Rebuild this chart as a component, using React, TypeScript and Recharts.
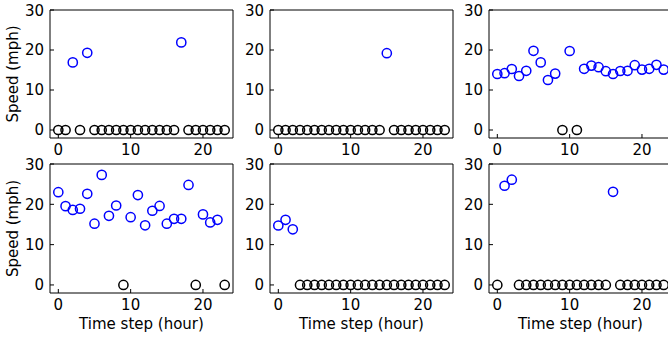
import { ScatterChart, Scatter, XAxis, YAxis, ReferenceArea } from "recharts";

// hour index on the x axis
const HOURS = [0, 1, 2, 3, 4, 5, 6, 7, 8, 9, 10, 11, 12, 13, 14, 15, 16, 17, 18, 19, 20, 21, 22, 23];
const X_TICKS = [0, 10, 20];
const Y_TICKS = [0, 10, 20, 30];

// speed (mph) per hour, one array per panel
const speedTopLeft = [0, 0, 16.9, 0, 19.3, 0, 0, 0, 0, 0, 0, 0, 0, 0, 0, 0, 0, 21.9, 0, 0, 0, 0, 0, 0];
const speedTopMid = [0, 0, 0, 0, 0, 0, 0, 0, 0, 0, 0, 0, 0, 0, 0, 19.2, 0, 0, 0, 0, 0, 0, 0, 0];
const speedTopRight = [14.0, 14.2, 15.25, 13.5, 14.8, 19.8, 16.9, 12.5, 14.1, 0, 19.75, 0, 15.3, 16.1, 15.7, 14.7, 14.0, 14.75, 14.8, 16.2, 15.1, 15.3, 16.3, 15.1];
const speedBotLeft = [23.0, 19.55, 18.6, 18.9, 22.6, 15.2, 27.3, 17.15, 19.7, 0, 16.8, 22.3, 14.8, 18.4, 19.6, 15.2, 16.4, 16.4, 24.8, 0, 17.5, 15.5, 16.15, 0];
const speedBotMid = [14.75, 16.15, 13.8, 0, 0, 0, 0, 0, 0, 0, 0, 0, 0, 0, 0, 0, 0, 0, 0, 0, 0, 0, 0, 0];
const speedBotRight = [0, 24.6, 26.1, 0, 0, 0, 0, 0, 0, 0, 0, 0, 0, 0, 0, 0, 23.1, 0, 0, 0, 0, 0, 0, 0];

const X_DOMAIN = [-1.15, 24.15];
const Y_DOMAIN = [-2, 30];
const FONT = "'DejaVu Sans', sans-serif";
const tickStyle = { fill: "#000", fontSize: 15, fontFamily: FONT };

const ring = (color: string) => (props: any) => (
  <circle cx={props.cx} cy={props.cy} r={4.6} fill="none" stroke={color} strokeWidth={1.5} />
);

interface PanelProps {
  speeds: number[];
  plotLeft: number;
  plotTop: number;
  plotH: number;
  xLabel?: boolean;
  yLabel?: boolean;
}

function Panel({ speeds, plotLeft, plotTop, plotH, xLabel, yLabel }: PanelProps) {
  const data = HOURS.map((h, i) => ({ x: h, y: speeds[i] }));
  const moving = data.filter((d) => d.y > 0);
  const stopped = data.filter((d) => d.y === 0);
  const axisW = 50;
  const marginTop = 8;
  const xAxisH = xLabel ? 44 : 25;
  const width = axisW + 183 + 2;
  const height = marginTop + plotH + xAxisH;

  return (
    <div style={{ position: "absolute", left: plotLeft - axisW, top: plotTop - marginTop }}>
      <ScatterChart width={width} height={height} margin={{ top: marginTop, right: 2, bottom: 0, left: 0 }}>
        <XAxis
          type="number"
          dataKey="x"
          domain={X_DOMAIN}
          ticks={X_TICKS}
          allowDataOverflow
          height={xAxisH}
          axisLine={false}
          tickLine={{ stroke: "#000" }}
          tickSize={-4}
          tickMargin={10}
          tick={tickStyle}
          label={
            xLabel
              ? { value: "Time step (hour)", position: "insideBottom", offset: 8, style: { ...tickStyle, fontSize: 15 } }
              : undefined
          }
        />
        <YAxis
          type="number"
          dataKey="y"
          domain={Y_DOMAIN}
          ticks={Y_TICKS}
          allowDataOverflow
          width={axisW}
          axisLine={false}
          tickLine={{ stroke: "#000" }}
          tickSize={-4}
          tickMargin={10}
          tick={tickStyle}
          label={
            yLabel
              ? {
                  value: "Speed (mph)",
                  angle: -90,
                  position: "insideLeft",
                  offset: 13,
                  textAnchor: "middle",
                  style: { ...tickStyle, fontSize: 15, textAnchor: "middle" },
                }
              : undefined
          }
        />
        <ReferenceArea
          x1={X_DOMAIN[0]}
          x2={X_DOMAIN[1]}
          y1={Y_DOMAIN[0]}
          y2={Y_DOMAIN[1]}
          fill="none"
          stroke="#000"
          strokeWidth={1}
          fillOpacity={0}
        />
        <Scatter data={stopped} shape={ring("#000")} isAnimationActive={false} />
        <Scatter data={moving} shape={ring("#0000ff")} isAnimationActive={false} />
      </ScatterChart>
    </div>
  );
}

export default function App() {
  return (
    <div
      style={{
        position: "absolute",
        left: 0,
        top: 0,
        width: 668,
        height: 337,
        overflow: "hidden",
        background: "#fff",
        fontFamily: FONT,
      }}
    >
      <Panel speeds={speedTopLeft} plotLeft={50} plotTop={10} plotH={128} yLabel />
      <Panel speeds={speedTopMid} plotLeft={270} plotTop={10} plotH={128} />
      <Panel speeds={speedTopRight} plotLeft={489} plotTop={10} plotH={128} />
      <Panel speeds={speedBotLeft} plotLeft={50} plotTop={164} plotH={129} xLabel yLabel />
      <Panel speeds={speedBotMid} plotLeft={270} plotTop={164} plotH={129} xLabel />
      <Panel speeds={speedBotRight} plotLeft={489} plotTop={164} plotH={129} xLabel />
    </div>
  );
}
